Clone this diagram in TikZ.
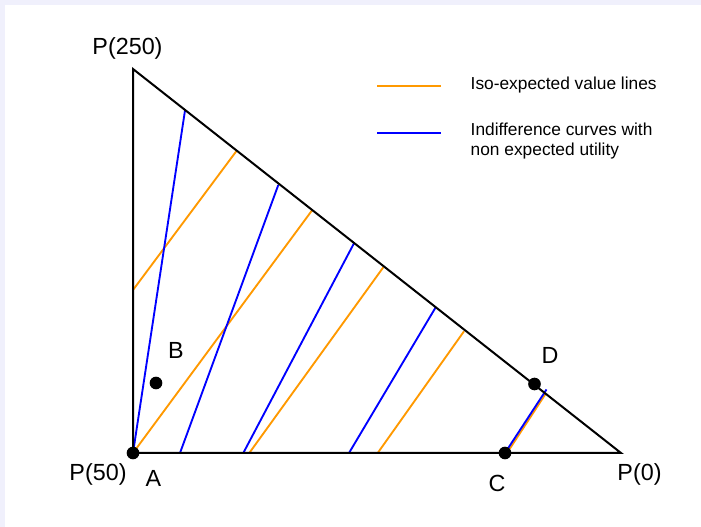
\documentclass[tikz,border=0pt]{standalone}
\usepackage{fontspec}
\setmainfont{Liberation Sans}
\definecolor{isoorange}{HTML}{FF9900}
\definecolor{indblue}{HTML}{0000FF}
\definecolor{pagebg}{HTML}{F0F0FC}
\tikzset{
  iso/.style={isoorange,line width=1.4pt},
  ind/.style={indblue,line width=1.4pt},
  edge/.style={black,line width=1.5pt},
  dot/.style={circle,fill=black,inner sep=0pt,minimum size=9.5pt},
  lab/.style={font=\fontsize{17.5}{20}\selectfont},
  legtext/.style={font=\fontsize{13}{15}\selectfont,anchor=west,align=left}
}
\begin{document}
\begin{tikzpicture}[x=0.75pt,y=-0.75pt]
    \useasboundingbox (0,0) rectangle (701,527);
    \fill[pagebg] (0,0) rectangle (701,527);
    \fill[white] (5,5) rectangle (701,527);
    % simplex corners
    \coordinate (top) at (133,69);
    \coordinate (left) at (133,453);
    \coordinate (right) at (621,453);
    % iso-expected value lines
    \foreach \xa/\ya/\xb/\yb in {133/290/236.7/150.7,133/453/312.3/210,249.3/453/383.3/267.3,377.7/453/464/331.3,507/453/545.5/394}
      \draw[iso] (\xa,\ya) -- (\xb,\yb);
    % indifference curves
    \foreach \xa/\ya/\xb/\yb in {133/453/185/110.5,180/453/278.3/185,243.3/453/354/243.3,349/453/435.7/307.3,505/453/546.5/389.5}
      \draw[ind] (\xa,\ya) -- (\xb,\yb);
    \draw[edge] (top) -- (left) -- (right) -- cycle;
    \node[dot] (A) at (133,453) {};
    \node[dot] (B) at (156,383) {};
    \node[dot] (C) at (505,453) {};
    \node[dot] (D) at (534.5,384) {};
    \node[lab] at (127.5,48) {P(250)};
    \node[lab] at (98,474) {P(50)};
    \node[lab] at (639.5,474) {P(0)};
    \node[lab] at (153.5,478) {A};
    \node[lab] at (176,350) {B};
    \node[lab] at (497,483) {C};
    \node[lab] at (550,355) {D};
    % legend
    \draw[iso] (377,86) -- (441,86);
    \node[legtext] at (466,85) {Iso-expected value lines};
    \draw[ind] (377,132.7) -- (441,132.7);
    \node[legtext] at (466,141.5) {Indifference curves with\\non expected utility};
  \end{tikzpicture}
\end{document}
